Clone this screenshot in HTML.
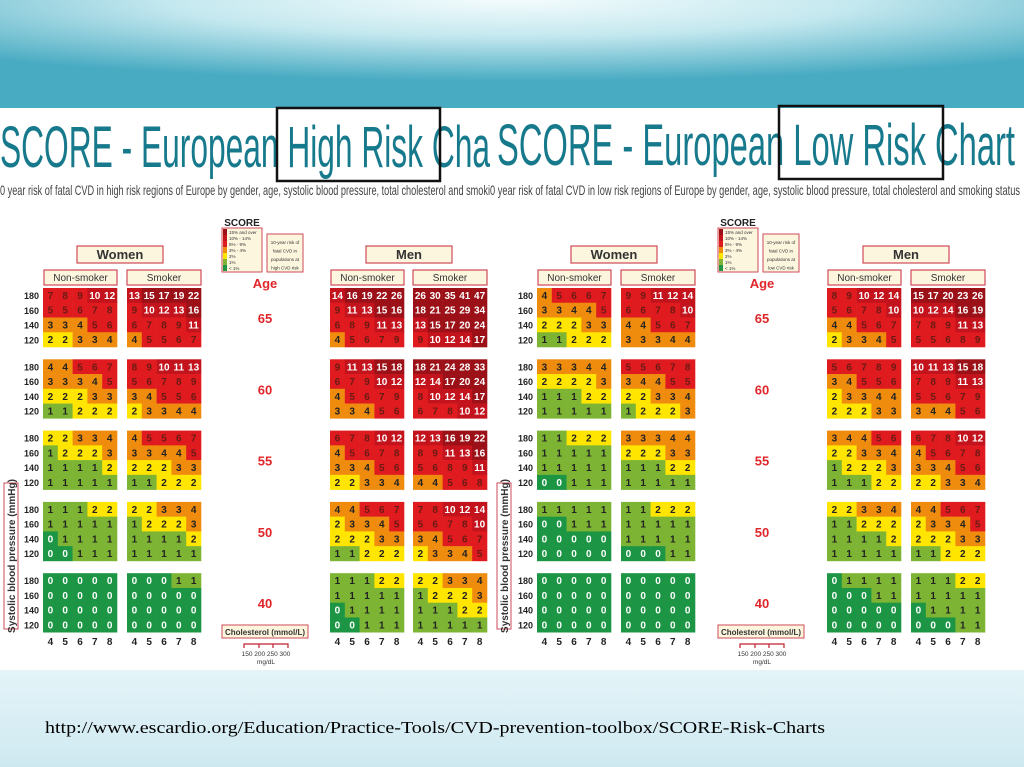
<!DOCTYPE html>
<html><head><meta charset="utf-8">
<style>
html,body{margin:0;padding:0;width:1024px;height:767px;overflow:hidden;background:#fff;}
svg{display:block;}
</style></head>
<body>
<svg id="root" width="1024" height="767" viewBox="0 0 1024 767" xmlns="http://www.w3.org/2000/svg">
<defs>
<radialGradient id="sky" cx="0.5" cy="0" r="0.75">
<stop offset="0" stop-color="#f4fcfd"/><stop offset="0.45" stop-color="#c4e8ef"/><stop offset="1" stop-color="#48abc2"/>
</radialGradient>
<linearGradient id="foot" x1="0" y1="0" x2="0" y2="1">
<stop offset="0" stop-color="#e4f4f8"/><stop offset="1" stop-color="#cfe9f1"/>
</linearGradient>
</defs>
<rect x="0" y="0" width="1024" height="108" fill="url(#sky)"/>
<rect x="0" y="670" width="1024" height="97" fill="url(#foot)"/>
<text x="45" y="733" font-family="Liberation Serif, serif" font-size="17" fill="#000" textLength="780" lengthAdjust="spacingAndGlyphs">http://www.escardio.org/Education/Practice-Tools/CVD-prevention-toolbox/SCORE-Risk-Charts</text>

<g>
<text x="0" y="167" font-family="Liberation Sans, sans-serif" font-size="58" fill="#17798c" textLength="490" lengthAdjust="spacingAndGlyphs">SCORE - European High Risk Cha</text>
<rect x="277" y="108" width="163" height="73" fill="none" stroke="#111" stroke-width="2.5"/>
<text x="0" y="195" font-family="Liberation Sans, sans-serif" font-size="14" fill="#444" textLength="490" lengthAdjust="spacingAndGlyphs">0 year risk of fatal CVD in high risk regions of Europe by gender, age, systolic blood pressure, total cholesterol and smoki</text>
</g>
<g>
<text x="497" y="165" font-family="Liberation Sans, sans-serif" font-size="58" fill="#17798c" textLength="518" lengthAdjust="spacingAndGlyphs">SCORE - European Low Risk Chart</text>
<rect x="779" y="106" width="164" height="73" fill="none" stroke="#111" stroke-width="2.5"/>
<text x="490" y="195" font-family="Liberation Sans, sans-serif" font-size="14" fill="#444" textLength="530" lengthAdjust="spacingAndGlyphs">0 year risk of fatal CVD in low risk regions of Europe by gender, age, systolic blood pressure, total cholesterol and smoking status</text>
</g>
<g id="charts"></g>
</svg>
<script>
const ages = [65, 60, 55, 50, 40];
const sbpLabels = [180, 160, 140, 120];
const cholLabels = [4, 5, 6, 7, 8];
const legendLabels = ['15% and over', '10% - 14%', '5% - 9%', '3% - 4%', '2%', '1%', '< 1%'];

const highWomenNon = [
 [[7,8,9,10,12],[5,5,6,7,8],[3,3,4,5,6],[2,2,3,3,4]],
 [[4,4,5,6,7],[3,3,3,4,5],[2,2,2,3,3],[1,1,2,2,2]],
 [[2,2,3,3,4],[1,2,2,2,3],[1,1,1,1,2],[1,1,1,1,1]],
 [[1,1,1,2,2],[1,1,1,1,1],[0,1,1,1,1],[0,0,1,1,1]],
 [[0,0,0,0,0],[0,0,0,0,0],[0,0,0,0,0],[0,0,0,0,0]]];
const highWomenSmk = [
 [[13,15,17,19,22],[9,10,12,13,16],[6,7,8,9,11],[4,5,5,6,7]],
 [[8,9,10,11,13],[5,6,7,8,9],[3,4,5,5,6],[2,3,3,4,4]],
 [[4,5,5,6,7],[3,3,4,4,5],[2,2,2,3,3],[1,1,2,2,2]],
 [[2,2,3,3,4],[1,2,2,2,3],[1,1,1,1,2],[1,1,1,1,1]],
 [[0,0,0,1,1],[0,0,0,0,0],[0,0,0,0,0],[0,0,0,0,0]]];
const highMenNon = [
 [[14,16,19,22,26],[9,11,13,15,16],[6,8,9,11,13],[4,5,6,7,9]],
 [[9,11,13,15,18],[6,7,9,10,12],[4,5,6,7,9],[3,3,4,5,6]],
 [[6,7,8,10,12],[4,5,6,7,8],[3,3,4,5,6],[2,2,3,3,4]],
 [[4,4,5,6,7],[2,3,3,4,5],[2,2,2,3,3],[1,1,2,2,2]],
 [[1,1,1,2,2],[1,1,1,1,1],[0,1,1,1,1],[0,0,1,1,1]]];
const highMenSmk = [
 [[26,30,35,41,47],[18,21,25,29,34],[13,15,17,20,24],[9,10,12,14,17]],
 [[18,21,24,28,33],[12,14,17,20,24],[8,10,12,14,17],[6,7,8,10,12]],
 [[12,13,16,19,22],[8,9,11,13,16],[5,6,8,9,11],[4,4,5,6,8]],
 [[7,8,10,12,14],[5,6,7,8,10],[3,4,5,6,7],[2,3,3,4,5]],
 [[2,2,3,3,4],[1,2,2,2,3],[1,1,1,2,2],[1,1,1,1,1]]];

const lowWomenNon = [
 [[4,5,6,6,7],[3,3,4,4,5],[2,2,2,3,3],[1,1,2,2,2]],
 [[3,3,3,4,4],[2,2,2,2,3],[1,1,1,2,2],[1,1,1,1,1]],
 [[1,1,2,2,2],[1,1,1,1,1],[1,1,1,1,1],[0,0,1,1,1]],
 [[1,1,1,1,1],[0,0,1,1,1],[0,0,0,0,0],[0,0,0,0,0]],
 [[0,0,0,0,0],[0,0,0,0,0],[0,0,0,0,0],[0,0,0,0,0]]];
const lowWomenSmk = [
 [[9,9,11,12,14],[6,6,7,8,10],[4,4,5,6,7],[3,3,3,4,4]],
 [[5,5,6,7,8],[3,4,4,5,5],[2,2,3,3,4],[1,2,2,2,3]],
 [[3,3,3,4,4],[2,2,2,3,3],[1,1,1,2,2],[1,1,1,1,1]],
 [[1,1,2,2,2],[1,1,1,1,1],[1,1,1,1,1],[0,0,0,1,1]],
 [[0,0,0,0,0],[0,0,0,0,0],[0,0,0,0,0],[0,0,0,0,0]]];
const lowMenNon = [
 [[8,9,10,12,14],[5,6,7,8,10],[4,4,5,6,7],[2,3,3,4,5]],
 [[5,6,7,8,9],[3,4,5,5,6],[2,3,3,4,4],[2,2,2,3,3]],
 [[3,4,4,5,6],[2,2,3,3,4],[1,2,2,2,3],[1,1,1,2,2]],
 [[2,2,3,3,4],[1,1,2,2,2],[1,1,1,1,2],[1,1,1,1,1]],
 [[0,1,1,1,1],[0,0,0,1,1],[0,0,0,0,0],[0,0,0,0,0]]];
const lowMenSmk = [
 [[15,17,20,23,26],[10,12,14,16,19],[7,8,9,11,13],[5,5,6,8,9]],
 [[10,11,13,15,18],[7,8,9,11,13],[5,5,6,7,9],[3,4,4,5,6]],
 [[6,7,8,10,12],[4,5,6,7,8],[3,3,4,5,6],[2,2,3,3,4]],
 [[4,4,5,6,7],[2,3,3,4,5],[2,2,2,3,3],[1,1,2,2,2]],
 [[1,1,1,2,2],[1,1,1,1,1],[0,1,1,1,1],[0,0,0,1,1]]];

const NS = 'http://www.w3.org/2000/svg';
const root = document.getElementById('charts');
const CW = 14.8, CH = 14.75;
const groupTop = i => 288 + i * 71.3;
function mk(tag, attrs, parent, txt) {
  const e = document.createElementNS(NS, tag);
  for (const k in attrs) e.setAttribute(k, attrs[k]);
  if (txt !== undefined) e.textContent = txt;
  (parent || root).appendChild(e);
  return e;
}
function fillFor(v) {
  if (v >= 15) return '#9b1117';
  if (v >= 10) return '#c3131c';
  if (v >= 5) return '#e01b1f';
  if (v >= 3) return '#ef8c0e';
  if (v >= 2) return '#ffe500';
  if (v >= 1) return '#7db434';
  return '#1c9544';
}
function textFor(v) {
  if (v >= 10 || v === 0) return '#fff';
  if (v >= 5) return '#6a1a14';
  return '#222';
}
function drawPanel(data, x0, name) {
  const g = mk('g', {});
  
  
  data.forEach((grp, gi) => {
    grp.forEach((row, ri) => {
      row.forEach((v, ci) => {
        const x = x0 + ci * CW, y = groupTop(gi) + ri * CH;
        const r = mk('rect', {x: x, y: y, width: CW + 0.3, height: CH + 0.3, fill: fillFor(v)}, g);
        
        
        const t = mk('text', {x: x + CW / 2, y: y + CH / 2 + 3.6, 'text-anchor': 'middle', 'font-family': 'Liberation Sans, sans-serif', 'font-size': '10', 'font-weight': 'bold', fill: textFor(v)}, g, String(v));
        
        
      });
    });
  });
  cholLabels.forEach((c, ci) => {
    const t = mk('text', {x: x0 + ci * CW + CW / 2, y: 645, 'text-anchor': 'middle', 'font-family': 'Liberation Sans, sans-serif', 'font-size': '10', 'font-weight': 'bold', fill: '#222'}, g, String(c));
    
    
  });
}
function box(x, y, w, h, label, fs, bold, name) {
  const r = mk('rect', {x: x, y: y, width: w, height: h, fill: '#fdf6de', stroke: '#d04a5a', 'stroke-width': 1.2});
  
  
  const t = mk('text', {x: x + w / 2, y: y + h / 2 + fs * 0.36, 'text-anchor': 'middle', 'font-family': 'Liberation Sans, sans-serif', 'font-size': fs, 'font-weight': bold ? 'bold' : 'normal', fill: '#333'}, root, label);
  
  
}
function drawChart(off, wn, ws, mn, msk, xs, ageX, rowLabelX, legX, note, name) {
  drawPanel(wn, xs[0], name + '-women-nonsmoker-grid');
  drawPanel(ws, xs[1], name + '-women-smoker-grid');
  drawPanel(mn, xs[2], name + '-men-nonsmoker-grid');
  drawPanel(msk, xs[3], name + '-men-smoker-grid');
  box(xs[0] + 34, 246, 86, 17, 'Women', 13, true, name + '-women-header');
  box(xs[2] + 36, 246, 86, 17, 'Men', 13, true, name + '-men-header');
  box(xs[0] + 1, 270, 73, 15, 'Non-smoker', 10, false, name + '-women-nonsmoker-header');
  box(xs[1], 270, 74, 15, 'Smoker', 10, false, name + '-women-smoker-header');
  box(xs[2] + 1, 270, 73, 15, 'Non-smoker', 10, false, name + '-men-nonsmoker-header');
  box(xs[3], 270, 74, 15, 'Smoker', 10, false, name + '-men-smoker-header');
  ages.forEach((a, gi) => {
    const t = mk('text', {x: ageX, y: groupTop(gi) + 35, 'text-anchor': 'middle', 'font-family': 'Liberation Sans, sans-serif', 'font-size': '13', 'font-weight': 'bold', fill: '#e0262a'}, root, String(a));
    
    
    sbpLabels.forEach((s, ri) => {
      const u = mk('text', {x: rowLabelX, y: groupTop(gi) + ri * CH + 11, 'text-anchor': 'end', 'font-family': 'Liberation Sans, sans-serif', 'font-size': '9', 'font-weight': 'bold', fill: '#222'}, root, String(s));
      
      
    });
  });
  const ag = mk('text', {x: ageX, y: 288, 'text-anchor': 'middle', 'font-family': 'Liberation Sans, sans-serif', 'font-size': '13', 'font-weight': 'bold', fill: '#e0262a'}, root, 'Age');
  
  
  const vb = mk('rect', {x: off + 4, y: 483, width: 14, height: 146, fill: '#fff', stroke: '#d04a5a', 'stroke-width': 1});
  
  
  const vt = mk('text', {x: off + 15, y: 556, transform: 'rotate(-90 ' + (off + 15) + ' 556)', 'text-anchor': 'middle', 'font-family': 'Liberation Sans, sans-serif', 'font-size': '10', 'font-weight': 'bold', fill: '#333'}, root, 'Systolic blood pressure (mmHg)');
  
  
  const sc = mk('text', {x: legX + 20, y: 226, 'text-anchor': 'middle', 'font-family': 'Liberation Sans, sans-serif', 'font-size': '10', 'font-weight': 'bold', fill: '#222'}, root, 'SCORE');
  
  
  const lb = mk('rect', {x: legX, y: 228, width: 40, height: 44, fill: '#fdf6de', stroke: '#d04a5a', 'stroke-width': 1});
  
  
  const legVals = [15, 10, 5, 3, 2, 1, 0];
  legVals.forEach((v, i) => {
    const sw = mk('rect', {x: legX + 1, y: 229 + i * 6, width: 4, height: 6, fill: fillFor(v)});
    
    
    const lt = mk('text', {x: legX + 7, y: 234 + i * 6, 'font-family': 'Liberation Sans, sans-serif', 'font-size': '4.5', fill: '#333'}, root, legendLabels[i]);
    
    
  });
  const nb = mk('rect', {x: legX + 45, y: 234, width: 36, height: 38, fill: '#fdf6de', stroke: '#d04a5a', 'stroke-width': 1});
  
  
  note.forEach((line, i) => {
    const nt = mk('text', {x: legX + 63, y: 244 + i * 8.5, 'text-anchor': 'middle', 'font-family': 'Liberation Sans, sans-serif', 'font-size': '4.5', fill: '#333'}, root, line);
    
    
  });
  const cb = mk('rect', {x: legX, y: 625, width: 86, height: 13, fill: '#fdf6de', stroke: '#d04a5a', 'stroke-width': 1});
  
  
  const ct = mk('text', {x: legX + 43, y: 635, 'text-anchor': 'middle', 'font-family': 'Liberation Sans, sans-serif', 'font-size': '8', 'font-weight': 'bold', fill: '#333'}, root, 'Cholesterol (mmol/L)');
  
  
  mk('path', {d: 'M' + (legX + 22) + ' 648 V644 H' + (legX + 66) + ' V648 M' + (legX + 37) + ' 644 V648 M' + (legX + 51) + ' 644 V648', stroke: '#c02030', fill: 'none', 'stroke-width': 1.2});
  const mg = mk('text', {x: legX + 44, y: 656, 'text-anchor': 'middle', 'font-family': 'Liberation Sans, sans-serif', 'font-size': '6.5', fill: '#333'}, root, '150 200 250 300');
  
  
  const mu = mk('text', {x: legX + 44, y: 664, 'text-anchor': 'middle', 'font-family': 'Liberation Sans, sans-serif', 'font-size': '6.5', fill: '#333'}, root, 'mg/dL');
  
  
}
drawChart(0, highWomenNon, highWomenSmk, highMenNon, highMenSmk, [43, 127, 330, 413], 265, 39, 222,
  ['10-year risk of', 'fatal CVD in', 'populations at', 'high CVD risk'], 'high-risk');
drawChart(493, lowWomenNon, lowWomenSmk, lowMenNon, lowMenSmk, [537, 621, 827, 911], 762, 533, 718,
  ['10-year risk of', 'fatal CVD in', 'populations at', 'low CVD risk'], 'low-risk');
</script>
</body></html>
